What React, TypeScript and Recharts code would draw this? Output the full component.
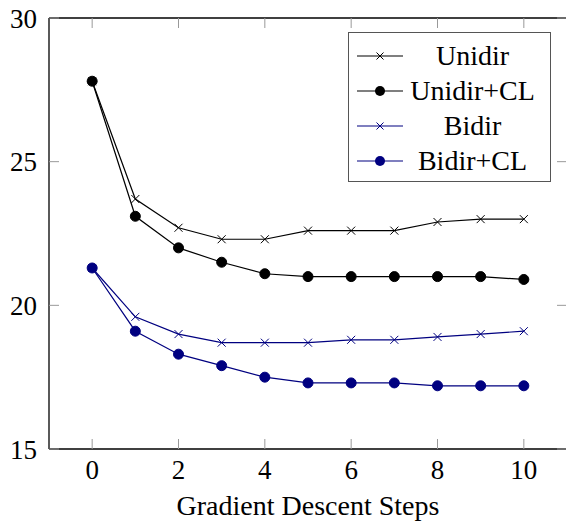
import { Label, Line, LineChart, ReferenceLine, XAxis, YAxis } from 'recharts'

const steps = [0, 1, 2, 3, 4, 5, 6, 7, 8, 9, 10]
const unidir = [27.8, 23.7, 22.7, 22.3, 22.3, 22.6, 22.6, 22.6, 22.9, 23.0, 23.0]
const unidirCL = [27.8, 23.1, 22.0, 21.5, 21.1, 21.0, 21.0, 21.0, 21.0, 21.0, 20.9]
const bidir = [21.3, 19.6, 19.0, 18.7, 18.7, 18.7, 18.8, 18.8, 18.9, 19.0, 19.1]
const bidirCL = [21.3, 19.1, 18.3, 17.9, 17.5, 17.3, 17.3, 17.3, 17.2, 17.2, 17.2]
const xTicks = [0, 2, 4, 6, 8, 10]
const yTicks = [15, 20, 25, 30]

const NAVY = '#000080'
const FONT = '"Liberation Serif", "Times New Roman", serif'

// frame geometry (pgfplots-style box with inward ticks on all four sides)
const W = 570
const H = 521
const M = { top: 18, right: 3, left: 0, bottom: 0 }
const Y_AXIS_W = 49
const X_AXIS_H = 72
const PLOT_W = W - M.left - M.right - Y_AXIS_W
const PLOT_H = H - M.top - M.bottom - X_AXIS_H
const TICK_LEN = 10
const X_TICK_GAP = 30
const Y_TICK_GAP = 12

type Series = { key: string; label: string; color: string; marker: 'x' | 'dot' }
const series: Series[] = [
  { key: 'unidir', label: 'Unidir', color: '#000', marker: 'x' },
  { key: 'unidirCL', label: 'Unidir+CL', color: '#000', marker: 'dot' },
  { key: 'bidir', label: 'Bidir', color: NAVY, marker: 'x' },
  { key: 'bidirCL', label: 'Bidir+CL', color: NAVY, marker: 'dot' },
]

const data = steps.map((s, i) => ({
  step: s,
  unidir: unidir[i],
  unidirCL: unidirCL[i],
  bidir: bidir[i],
  bidirCL: bidirCL[i],
}))

// small "x" marker like pgfplots' mark=x
function Cross({ cx, cy, color, size = 4 }: { cx?: number; cy?: number; color: string; size?: number }) {
  if (cx == null || cy == null) return null
  return (
    <g>
      <line x1={cx - size} y1={cy - size} x2={cx + size} y2={cy + size} stroke={color} strokeWidth={1} />
      <line x1={cx - size} y1={cy + size} x2={cx + size} y2={cy - size} stroke={color} strokeWidth={1} />
    </g>
  )
}

function XTick({ x, y, payload }: any) {
  const axisY = y - X_TICK_GAP
  const topY = axisY - PLOT_H
  return (
    <g>
      <line x1={x} y1={axisY} x2={x} y2={axisY - TICK_LEN} stroke="#999" />
      <line x1={x} y1={topY} x2={x} y2={topY + TICK_LEN} stroke="#999" />
      <text x={x} y={y} textAnchor="middle" fontFamily={FONT} fontSize={27} fill="#000">
        {payload.value}
      </text>
    </g>
  )
}

function YTick({ x, y, payload }: any) {
  const axisX = x + Y_TICK_GAP
  const rightX = axisX + PLOT_W
  return (
    <g>
      <line x1={axisX} y1={y} x2={axisX + TICK_LEN} y2={y} stroke="#999" />
      <line x1={rightX} y1={y} x2={rightX - TICK_LEN} y2={y} stroke="#999" />
      <text x={x} y={y + 9.5} textAnchor="end" fontFamily={FONT} fontSize={27} fill="#000">
        {payload.value}
      </text>
    </g>
  )
}

function LegendBox() {
  return (
    <div
      style={{
        position: 'absolute',
        left: 348,
        top: 32,
        width: 203,
        height: 150,
        border: '1px solid #555',
        background: '#fff',
        boxSizing: 'border-box',
        paddingTop: 5,
      }}
    >
      {series.map((s) => (
        <div key={s.key} style={{ display: 'flex', alignItems: 'center', height: 35, paddingRight: 12 }}>
          <svg width={58} height={20} style={{ flex: 'none' }}>
            <line x1={8} y1={10} x2={54} y2={10} stroke={s.color} strokeWidth={1.2} />
            {s.marker === 'x' ? (
              <Cross cx={31} cy={10} color={s.color} size={3.5} />
            ) : (
              <circle cx={31} cy={10} r={5} fill={s.color} />
            )}
          </svg>
          <span
            style={{
              flex: 1,
              textAlign: 'center',
              fontFamily: FONT,
              fontSize: 28,
              color: '#000',
              lineHeight: '35px',
              whiteSpace: 'nowrap',
            }}
          >
            {s.label}
          </span>
        </div>
      ))}
    </div>
  )
}

export default function App() {
  return (
    <div style={{ position: 'absolute', left: 0, top: 0, width: 566, height: 521, overflow: 'hidden', background: '#fff' }}>
      <LineChart width={W} height={H} data={data} margin={M}>
        <XAxis
          dataKey="step"
          type="number"
          domain={[-1, 11]}
          ticks={xTicks}
          height={X_AXIS_H}
          axisLine={{ stroke: '#000', strokeWidth: 1.3 }}
          tickLine={false}
          tickSize={0}
          tickMargin={X_TICK_GAP}
          tick={<XTick />}
        >
          <Label
            value="Gradient Descent Steps"
            position="insideBottom"
            offset={6}
            style={{ fontFamily: FONT, fontSize: 28, fill: '#000' }}
          />
        </XAxis>
        <YAxis
          type="number"
          domain={[15, 30]}
          ticks={yTicks}
          width={Y_AXIS_W}
          axisLine={{ stroke: '#000', strokeWidth: 1.3 }}
          tickLine={false}
          tickSize={0}
          tickMargin={Y_TICK_GAP}
          tick={<YTick />}
        />
        <ReferenceLine y={30} stroke="#000" strokeWidth={1.3} />
        <ReferenceLine x={11} stroke="#000" strokeWidth={1.3} />
        {series.map((s) => (
          <Line
            key={s.key}
            dataKey={s.key}
            type="linear"
            stroke={s.color}
            strokeWidth={1.2}
            isAnimationActive={false}
            dot={
              s.marker === 'x'
                ? (p: any) => <Cross key={`${s.key}-${p.index}`} cx={p.cx} cy={p.cy} color={s.color} />
                : { r: 5, fill: s.color, stroke: s.color, strokeWidth: 1 }
            }
            activeDot={false}
          />
        ))}
      </LineChart>
      <LegendBox />
    </div>
  )
}
